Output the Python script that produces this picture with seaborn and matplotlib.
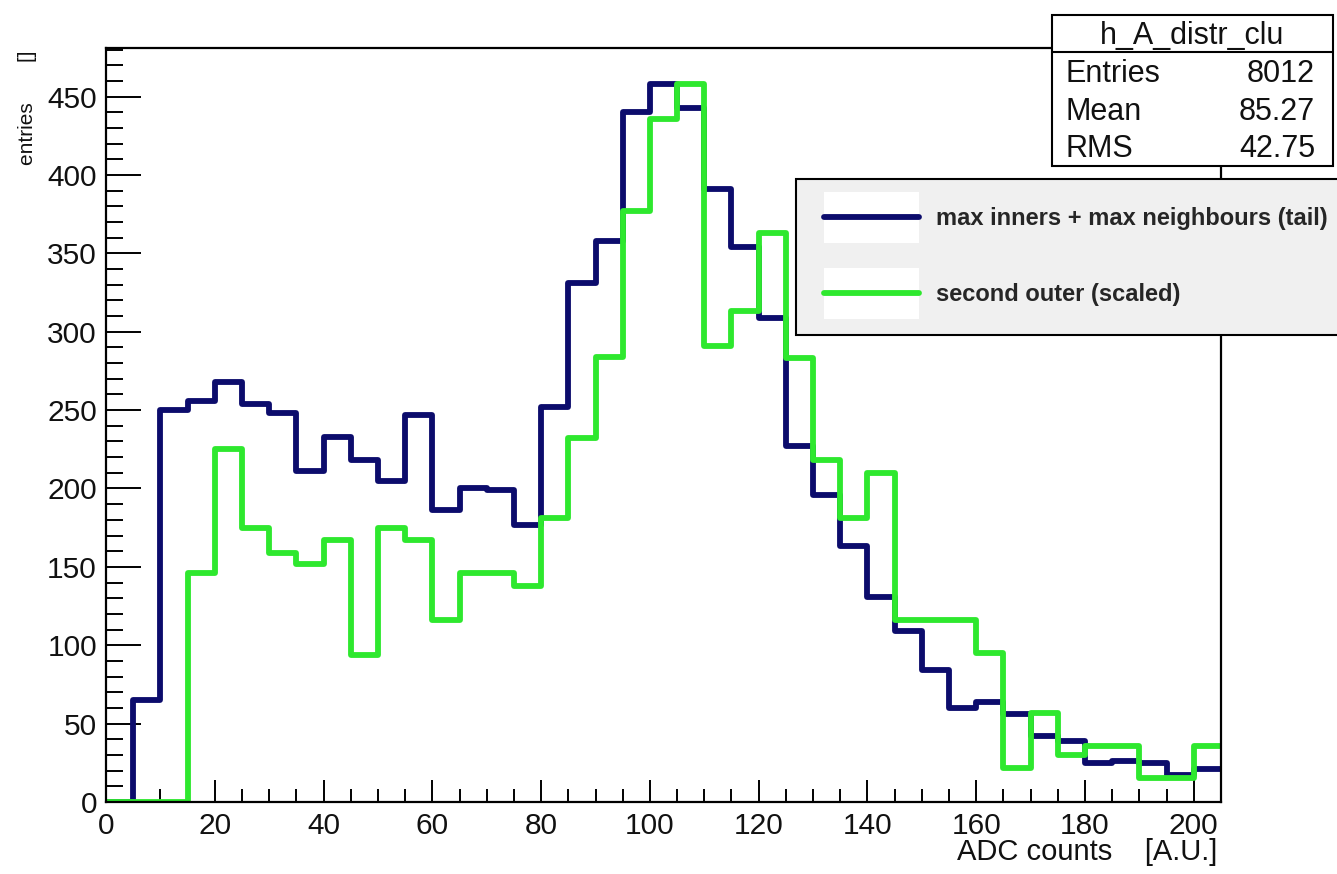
import numpy as np
import pandas as pd
import matplotlib
matplotlib.use("Agg")
import matplotlib.pyplot as plt
from matplotlib.patches import Rectangle
from matplotlib.lines import Line2D
from matplotlib.legend_handler import HandlerLine2D
from matplotlib.ticker import MultipleLocator
import seaborn as sns

# ---- histogram contents (5-count wide bins from 0 to 205) ----
bin_width = 5
x_range = (0, 205)
inner_tail = [0, 65, 250, 256, 268, 254, 248, 211, 233, 218, 205, 247, 186, 200,
              199, 177, 252, 331, 358, 440, 458, 443, 391, 354, 309, 227, 196,
              163, 131, 109, 84, 60, 64, 56, 42, 39, 25, 26, 25, 17, 21]
second_outer = [0, 0, 0, 146, 225, 175, 159, 152, 167, 94, 175, 167, 116, 146,
                146, 138, 181, 232, 284, 377, 436, 458, 291, 313, 363, 283, 218,
                181, 210, 116, 116, 116, 95, 22, 57, 30, 36, 36, 15, 15, 36]
series_labels = ["max inners + max neighbours (tail)", "second outer (scaled)"]
series_colors = ["#0c0c6c", "#2ee82e"]

stats_title = "h_A_distr_clu"
stats_names = ["Entries", "Mean", "RMS"]
stats_values = ["8012", "85.27", "42.75"]

centers = np.arange(x_range[0], x_range[1], bin_width) + bin_width / 2
df = pd.DataFrame({
    "adc": np.concatenate([centers, centers]),
    "w": np.concatenate([inner_tail, second_outer]).astype(float),
    "series": [series_labels[0]] * len(centers) + [series_labels[1]] * len(centers),
})

sns.set_style("ticks")
plt.rcParams["font.family"] = ["Liberation Sans", "DejaVu Sans"]

W, H = 1337, 874
fig = plt.figure(figsize=(W / 100, H / 100), dpi=100)
fig.patch.set_facecolor("white")


def fx(px):
    return px / W


def fy(py):
    return 1 - py / H


class SwatchLineHandler(HandlerLine2D):
    """Line sample drawn over a white swatch, like a filled legend entry."""

    def create_artists(self, legend, orig_handle, xdescent, ydescent, width,
                       height, fontsize, trans):
        arts = super().create_artists(legend, orig_handle, xdescent, ydescent,
                                      width, height, fontsize, trans)
        yc = (height - ydescent) / 2
        half = 1.08 * fontsize
        swatch = Rectangle((-xdescent, yc - half), width, 2 * half,
                           facecolor="white", edgecolor="none", transform=trans)
        return [swatch] + list(arts)


ax = fig.add_axes([fx(106), fy(802), fx(1221) - fx(106), fy(48) - fy(802)])

lines = []
for lab, col in zip(series_labels, series_colors):
    sub = df[df["series"] == lab]
    sns.histplot(data=sub, x="adc", weights="w", binwidth=bin_width,
                 binrange=x_range, element="step", fill=False, color=col,
                 linewidth=4.2, ax=ax)
    lines.append(ax.lines[-1])

ax.set_xlim(*x_range)
ax.set_ylim(0, 481)
ax.xaxis.set_major_locator(MultipleLocator(20))
ax.xaxis.set_minor_locator(MultipleLocator(5))
ax.yaxis.set_major_locator(MultipleLocator(50))
ax.yaxis.set_minor_locator(MultipleLocator(10))

for sp in ax.spines.values():
    sp.set_linewidth(1.6)
    sp.set_color("black")

ax.tick_params(axis="both", which="both", direction="in", top=False,
               right=False, width=1.4, color="black", labelsize=21.5,
               labelcolor="#111111")
ax.tick_params(axis="x", which="major", length=16, pad=7.5)
ax.tick_params(axis="x", which="minor", length=9.5)
ax.tick_params(axis="y", which="major", length=25, pad=6.5)
ax.tick_params(axis="y", which="minor", length=12)

ax.set_xlabel("ADC counts    [A.U.]", loc="right", fontsize=21, color="#111111")
ax.xaxis.set_label_coords(0.997, -0.048)
ax.set_ylabel("entries       []", loc="top", fontsize=15, color="#111111")
ax.yaxis.set_label_coords(-0.0615, 0.997)

# ---- legend box ----
leg = ax.legend(handles=lines, labels=series_labels, loc="upper left",
                bbox_to_anchor=(fx(796), fy(179)), bbox_transform=fig.transFigure,
                borderaxespad=0, prop={"weight": "bold", "size": 17},
                handler_map={Line2D: SwatchLineHandler()},
                handlelength=4.0, handletextpad=0.75,
                borderpad=1.2, labelspacing=2.25, fancybox=False, framealpha=1,
                facecolor="#f0f0f0", edgecolor="black")
leg.get_frame().set_linewidth(1.5)

# ---- statistics box ----
x0, x1, y0, y1, ysep = 1052, 1333, 15, 166, 52
fig.patches.append(Rectangle((fx(x0), fy(y1)), fx(x1) - fx(x0), fy(y0) - fy(y1),
                             transform=fig.transFigure, facecolor="white",
                             edgecolor="black", linewidth=1.5, zorder=5))
fig.add_artist(Line2D([fx(x0), fx(x1)], [fy(ysep), fy(ysep)],
                      transform=fig.transFigure, color="black", linewidth=1.5,
                      zorder=6))
fig.text(fx((x0 + x1) / 2), fy(44), stats_title, ha="center", va="baseline",
         fontsize=22, color="#111111", zorder=7)
row_base = [82, 119.5, 157]
for name, val, yy in zip(stats_names, stats_values, row_base):
    fig.text(fx(1066), fy(yy), name, ha="left", va="baseline", fontsize=22,
             color="#111111", zorder=7)
    fig.text(fx(1315), fy(yy), val, ha="right", va="baseline", fontsize=22,
             color="#111111", zorder=7)

fig.savefig("out.png", dpi=100)
